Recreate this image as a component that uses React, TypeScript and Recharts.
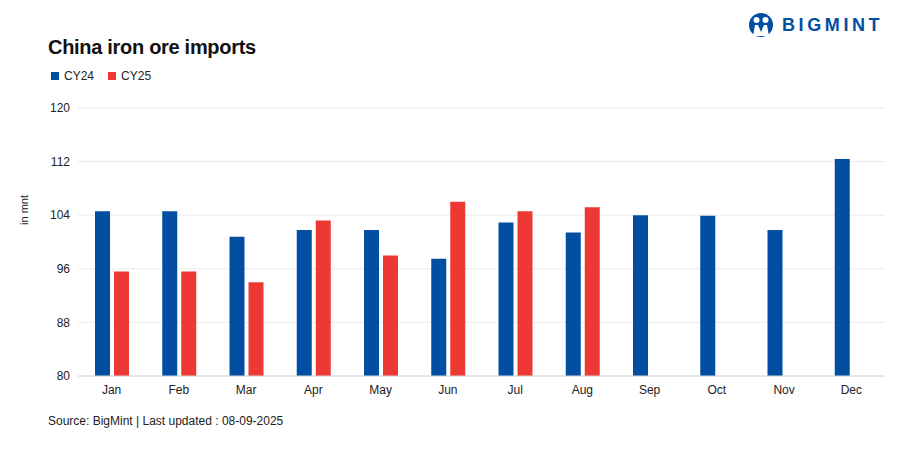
import React from 'react';
import { BarChart, Bar, XAxis, YAxis, CartesianGrid } from 'recharts';

// Monthly imports, million tonnes
const months = ['Jan', 'Feb', 'Mar', 'Apr', 'May', 'Jun', 'Jul', 'Aug', 'Sep', 'Oct', 'Nov', 'Dec'];
const cy24 = [104.6, 104.6, 100.8, 101.8, 101.8, 97.5, 102.9, 101.4, 104.0, 103.9, 101.8, 112.4];
const cy25 = [95.6, 95.6, 94.0, 103.2, 98.0, 106.0, 104.6, 105.2, null, null, null, null];
const yTicks = [80, 88, 96, 104, 112, 120];

const BLUE = '#024ea2';
const RED = '#ee3833';
const FONT = '"Liberation Sans", Arial, sans-serif';

const data = months.map((m, i) => ({ month: m, cy24: cy24[i], cy25: cy25[i] }));

const Logo = () => (
  <div style={{ position: 'absolute', left: 748, top: 12, display: 'flex', alignItems: 'center' }}>
    <svg width={26} height={26} viewBox="0 0 26 26">
      <circle cx={13} cy={13} r={12} fill={BLUE} />
      <circle cx={8.5} cy={8} r={3} fill="#fff" />
      <circle cx={17.5} cy={8} r={3} fill="#fff" />
      <path d="M5 24 L7 13 L10 13 L13 20 L16 13 L19 13 L21 24 Z" fill="#fff" />
    </svg>
    <span style={{ marginLeft: 8, color: BLUE, fontFamily: FONT, fontWeight: 700, fontSize: 18, letterSpacing: 3.6 }}>
      BIGMINT
    </span>
  </div>
);

const App: React.FC = () => {
  return (
    <div style={{ position: 'absolute', left: 0, top: 0, width: 908, height: 460, background: '#fff', fontFamily: FONT }}>
      <Logo />
      <div style={{ position: 'absolute', left: 48, top: 36, fontSize: 20, fontWeight: 700, color: '#111', letterSpacing: -0.3 }}>
        China iron ore imports
      </div>
      <div style={{ position: 'absolute', left: 51, top: 69, display: 'flex', alignItems: 'center', fontSize: 12, color: '#222' }}>
        <span style={{ width: 8, height: 8, background: BLUE, display: 'inline-block', marginRight: 5 }} />
        <span style={{ marginRight: 14 }}>CY24</span>
        <span style={{ width: 8, height: 8, background: RED, display: 'inline-block', marginRight: 5 }} />
        <span>CY25</span>
      </div>
      <div style={{ position: 'absolute', left: 0, top: 0 }}>
        <BarChart
          width={908}
          height={460}
          data={data}
          margin={{ top: 108, right: 23, bottom: 54, left: 0 }}
          barCategoryGap={16}
          barGap={4}
          barSize={15}
        >
          <CartesianGrid vertical={false} stroke="#ebebeb" strokeWidth={1} />
          <XAxis
            dataKey="month"
            tickLine={false}
            axisLine={{ stroke: '#d6d6d6' }}
            tick={{ fontSize: 12, fill: '#222', fontFamily: FONT }}
            tickMargin={3}
            interval={0}
          />
          <YAxis
            domain={[80, 120]}
            ticks={yTicks}
            width={78}
            axisLine={false}
            tickLine={false}
            tickSize={0}
            tickMargin={8}
            tick={{ fontSize: 12, fill: '#222', fontFamily: FONT }}
          />
          <Bar dataKey="cy24" name="CY24" fill={BLUE} isAnimationActive={false} />
          <Bar dataKey="cy25" name="CY25" fill={RED} isAnimationActive={false} />
        </BarChart>
      </div>
      <div
        style={{
          position: 'absolute',
          left: 24,
          top: 210,
          fontSize: 11,
          color: '#222',
          whiteSpace: 'nowrap',
          transform: 'translate(-50%, -50%) rotate(-90deg)',
        }}
      >
        in mnt
      </div>
      <div style={{ position: 'absolute', left: 48, top: 414, fontSize: 12, color: '#222' }}>
        Source: BigMint | Last updated : 08-09-2025
      </div>
    </div>
  );
};

export default App;
